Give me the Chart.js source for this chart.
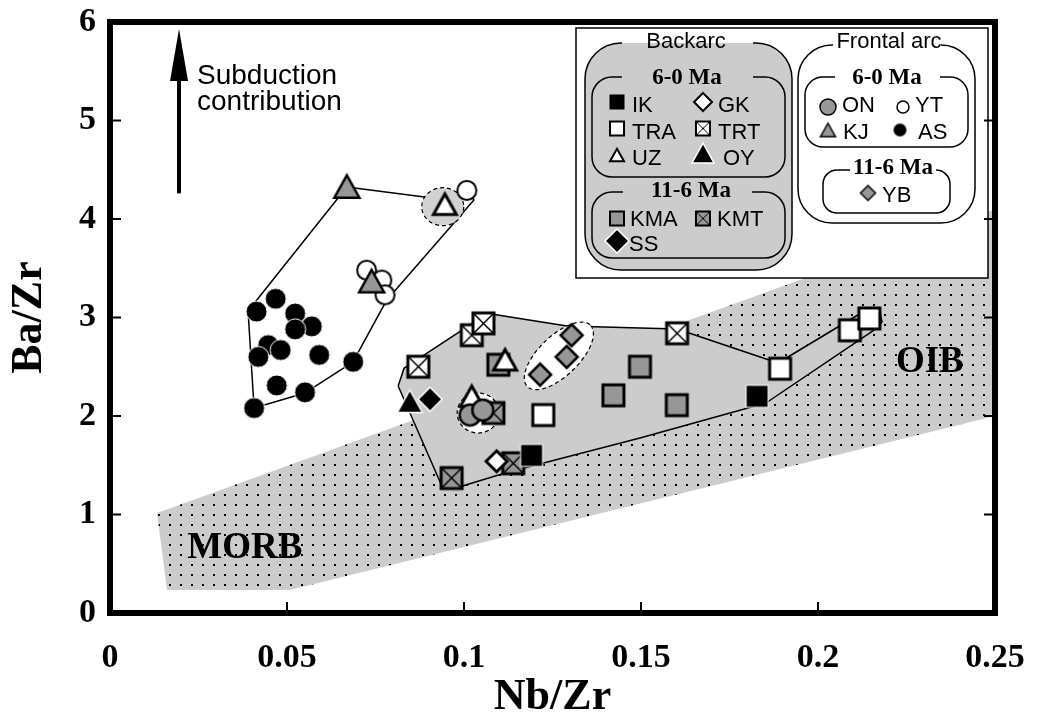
<!DOCTYPE html>
<html>
<head>
<meta charset="utf-8">
<script src="https://cdn.jsdelivr.net/npm/chart.js@4.4.0/dist/chart.umd.min.js"></script>
<style>
  html, body { margin: 0; background: #fff; }
  #wrap { width: 1038px; height: 720px; }
</style>
</head>
<body>
<div id="wrap"><canvas id="myChart" width="1038" height="720"></canvas></div>
<script>
// axis ticks
const xTicks = [0, 0.05, 0.1, 0.15, 0.2, 0.25]
const yTicks = [0, 1, 2, 3, 4, 5, 6]

// frontal arc, 6-0 Ma  [Nb/Zr, Ba/Zr]
const onPts = [[0.1017, 2.01], [0.1053, 2.06]]
const ytPts = [[0.1008, 4.29], [0.0725, 3.48], [0.0768, 3.38], [0.0777, 3.23]]
const kjPts = [[0.0669, 4.33], [0.0739, 3.37]]
const asPts = [
  [0.0468, 3.19], [0.0414, 3.06], [0.0523, 3.04], [0.0570, 2.91], [0.0523, 2.88],
  [0.0447, 2.72], [0.0482, 2.67], [0.0419, 2.60], [0.0591, 2.62], [0.0687, 2.55],
  [0.0471, 2.31], [0.0551, 2.24], [0.0407, 2.08]
]
// frontal arc, 11-6 Ma
const ybPts = [[0.1304, 2.82], [0.1290, 2.60], [0.1215, 2.42]]

// backarc, 6-0 Ma
const ikPts = [[0.1828, 2.20], [0.1191, 1.60]]
const gkPts = [[0.1092, 1.54]]
const traPts = [[0.1224, 2.01], [0.1893, 2.48], [0.2090, 2.87], [0.2145, 2.99]]
const trtPts = [[0.0871, 2.50], [0.1022, 2.82], [0.1055, 2.94], [0.1602, 2.84]]
const uzPts = [[0.0946, 4.15], [0.1116, 2.57], [0.1022, 2.20]]
const oyPts = [[0.0847, 2.15]]
// backarc, 11-6 Ma
const kmaPts = [[0.1097, 2.52], [0.1497, 2.50], [0.1422, 2.21], [0.1601, 2.11]]
const kmtPts = [[0.1083, 2.03], [0.1139, 1.52], [0.0965, 1.37]]
const ssPts = [[0.0904, 2.17]]

// outlines of fields
const morbOib = [[0.0133, 1.015], [0.25, 4.1], [0.25, 2.0], [0.0508, 0.234], [0.0161, 0.234]]
const backarcField = [
  [0.0814, 2.305], [0.0831, 2.487], [0.1017, 2.924], [0.1059, 3.046], [0.1291, 2.914],
  [0.1602, 2.883], [0.1887, 2.538], [0.2136, 3.076], [0.2175, 3.046], [0.2181, 2.954],
  [0.2155, 2.863], [0.1853, 2.132], [0.1497, 1.777], [0.1116, 1.421], [0.0977, 1.269],
  [0.0935, 1.310]
]
const frontalField = [
  [0.0407, 2.081], [0.0390, 3.066], [0.0669, 4.325], [0.0932, 4.203], [0.1006, 4.305],
  [0.1028, 4.193], [0.0782, 3.178], [0.0686, 2.548], [0.0551, 2.234]
]
// dashed groupings: centre [x, y], radii px, tilt deg, fill
const groups = [
  { c: [0.0940, 4.125], rx: 21, ry: 19, rot: 0, fill: '#d2d2d2' },
  { c: [0.1040, 2.03], rx: 21, ry: 20, rot: 0, fill: '#fff' },
  { c: [0.1268, 2.61], rx: 44, ry: 20, rot: -44, fill: '#fff' }
]

const GRAY = '#cccccc'
const MID = '#979797'
const serif = 'Liberation Serif'
const sans = 'Liberation Sans'

// marker images
const marker = (shape, fill, edge, lw, s, cross) => {
  const pad = Math.ceil(lw) + 3
  const c = document.createElement('canvas')
  c.width = c.height = Math.round(s + pad * 2)
  const g = c.getContext('2d')
  const m = c.width / 2, h = s / 2
  g.beginPath()
  if (shape === 'square') g.rect(m - h, m - h, s, s)
  else if (shape === 'diamond') {
    g.moveTo(m, m - h); g.lineTo(m + h, m); g.lineTo(m, m + h); g.lineTo(m - h, m); g.closePath()
  } else if (shape === 'triangle') {
    const t = s * 0.9
    g.moveTo(m, m - t / 2); g.lineTo(m + h, m + t / 2); g.lineTo(m - h, m + t / 2); g.closePath()
  } else g.arc(m, m, h, 0, Math.PI * 2)
  g.fillStyle = fill
  g.fill()
  if (lw > 0) { g.lineWidth = lw; g.strokeStyle = edge; g.stroke() }
  if (cross) {
    g.lineWidth = Math.max(1, lw * 0.5)
    g.strokeStyle = '#000'
    g.beginPath()
    g.moveTo(m - h, m - h); g.lineTo(m + h, m + h)
    g.moveTo(m + h, m - h); g.lineTo(m - h, m + h)
    g.stroke()
  }
  return c
}

const sym = {
  IK: [marker('square', '#000', '#fff', 1, 22), marker('square', '#000', '#000', 0, 15)],
  GK: [marker('diamond', '#fff', '#000', 3, 21), marker('diamond', '#fff', '#000', 2, 18)],
  TRA: [marker('square', '#fff', '#000', 3, 21), marker('square', '#fff', '#000', 2, 14)],
  TRT: [marker('square', '#fff', '#000', 3, 21, true), marker('square', '#fff', '#000', 2, 14, true)],
  UZ: [marker('triangle', '#fff', '#000', 3, 23), marker('triangle', '#fff', '#000', 2, 14)],
  OY: [marker('triangle', '#000', '#fff', 1.5, 25), marker('triangle', '#000', '#fff', 1.5, 22)],
  KMA: [marker('square', MID, '#000', 3, 21), marker('square', MID, '#000', 2, 14)],
  KMT: [marker('square', MID, '#000', 3, 21, true), marker('square', MID, '#000', 2, 14, true)],
  SS: [marker('diamond', '#000', '#fff', 1.5, 24), marker('diamond', '#000', '#fff', 1.5, 24)],
  ON: [marker('circle', MID, '#000', 2.5, 21), marker('circle', MID, '#000', 1.5, 16)],
  YT: [marker('circle', '#fff', '#000', 2, 19), marker('circle', '#fff', '#000', 1.5, 12)],
  KJ: [marker('triangle', MID, '#000', 2.5, 25), marker('triangle', MID, '#000', 1.5, 15)],
  AS: [marker('circle', '#000', '#fff', 1, 21), marker('circle', '#000', '#000', 0, 13)],
  YB: [marker('diamond', MID, '#000', 2.5, 22), marker('diamond', MID, '#000', 1.5, 15)]
}

// dotted fill of the MORB-OIB array
const dotPattern = (() => {
  const c = document.createElement('canvas')
  c.width = 11; c.height = 10
  const g = c.getContext('2d')
  g.fillStyle = GRAY; g.fillRect(0, 0, 11, 10)
  g.fillStyle = '#000'; g.fillRect(4, 4, 2, 2)
  return g.createPattern(c, 'repeat')
})()

const toXY = pts => pts.map(([x, y]) => ({ x, y }))
const closed = pts => toXY(pts.concat([pts[0]]))

const field = (data, fill, line, order) => ({
  data: closed(data), showLine: true, fill: fill ? 'shape' : false,
  backgroundColor: fill || 'rgba(0,0,0,0)', borderColor: line || 'rgba(0,0,0,0)',
  borderWidth: line ? 1.5 : 0, pointRadius: 0, order, borderJoinStyle: 'round'
})
const series = (name, pts, order) => ({
  label: name, data: toXY(pts), pointStyle: sym[name][0], pointRadius: 11, order, showLine: false
})

const datasets = [
  field(morbOib, dotPattern, null, 100),
  field(backarcField, GRAY, '#000', 99),
  field(frontalField, null, '#000', 98),
  series('YT', ytPts, 40),
  series('KJ', kjPts, 39),
  series('AS', asPts, 38),
  series('KMA', kmaPts, 37),
  series('TRT', trtPts, 36),
  series('UZ', uzPts, 35),
  series('KMT', kmtPts, 34),
  series('ON', onPts, 33),
  series('TRA', traPts, 32),
  series('YB', ybPts, 31),
  series('GK', gkPts, 30),
  series('IK', ikPts, 29),
  series('OY', oyPts, 28),
  series('SS', ssPts, 27)
]

// rounded legend box with a gap in its top edge for the title
const gapBox = (ctx, x, y, w, h, r, g0, g1, fill) => {
  ctx.beginPath(); ctx.roundRect(x, y, w, h, r); ctx.fillStyle = fill; ctx.fill()
  ctx.beginPath()
  ctx.moveTo(g1, y)
  ctx.arcTo(x + w, y, x + w, y + h, r)
  ctx.arcTo(x + w, y + h, x, y + h, r)
  ctx.arcTo(x, y + h, x, y, r)
  ctx.arcTo(x, y, x + w, y, r)
  ctx.lineTo(g0, y)
  ctx.stroke()
}

const legendItems = [
  ['IK', 617, 102, 632, 112], ['GK', 703, 102, 718, 112],
  ['TRA', 617, 128.5, 632, 138.5], ['TRT', 703, 128.5, 718, 138.5],
  ['UZ', 617, 155, 632, 165], ['OY', 703, 153, 723, 165],
  ['KMA', 617, 218.5, 630, 226], ['KMT', 703, 218.5, 717, 226],
  ['SS', 617, 241, 629, 251],
  ['ON', 828, 107, 842, 112], ['YT', 903, 107, 915, 112],
  ['KJ', 828, 130, 843, 138.5], ['AS', 900, 130, 918, 138.5],
  ['YB', 868, 193, 882, 202]
]

const decor = {
  id: 'decor',
  afterDatasetDraw(chart, args) {
    if (chart.data.datasets[args.index].order !== 98) return
    const { ctx, scales: { x, y } } = chart
    ctx.save()
    groups.forEach(e => {
      ctx.beginPath()
      ctx.ellipse(x.getPixelForValue(e.c[0]), y.getPixelForValue(e.c[1]), e.rx, e.ry, e.rot * Math.PI / 180, 0, Math.PI * 2)
      ctx.fillStyle = e.fill
      ctx.fill()
      ctx.setLineDash([4, 3])
      ctx.lineWidth = 1.2
      ctx.strokeStyle = '#000'
      ctx.stroke()
    })
    ctx.restore()
  },
  afterDatasetsDraw(chart) {
    const { ctx, scales: { x, y } } = chart
    ctx.save()
    ctx.fillStyle = '#000'
    ctx.font = `bold 37px "${serif}"`
    ctx.textAlign = 'center'
    ctx.textBaseline = 'middle'
    ctx.fillText('MORB', x.getPixelForValue(0.0381), y.getPixelForValue(0.66))
    ctx.fillText('OIB', x.getPixelForValue(0.2316), y.getPixelForValue(2.54))

    // subduction arrow
    const ax = x.getPixelForValue(0.0195)
    const tip = y.getPixelForValue(5.93), tail = y.getPixelForValue(4.26)
    ctx.lineWidth = 4
    ctx.strokeStyle = '#000'
    ctx.beginPath(); ctx.moveTo(ax, tail); ctx.lineTo(ax, tip + 40); ctx.stroke()
    ctx.beginPath(); ctx.moveTo(ax, tip); ctx.lineTo(ax + 9, tip + 52); ctx.lineTo(ax - 9, tip + 52); ctx.closePath(); ctx.fill()
    ctx.font = `28px "${sans}"`
    ctx.textAlign = 'left'
    ctx.textBaseline = 'alphabetic'
    ctx.fillText('Subduction', ax + 18, tip + 55)
    ctx.fillText('contribution', ax + 18, tip + 81)
    ctx.restore()
  },
  afterDraw(chart) {
    const { ctx, chartArea: a, scales: { x, y } } = chart
    ctx.save()
    ctx.strokeStyle = '#000'

    // legend
    ctx.lineWidth = 1.5
    ctx.fillStyle = '#fff'
    ctx.fillRect(576, 28, 412, 250)
    ctx.strokeRect(576, 28, 412, 250)
    gapBox(ctx, 585, 43, 207, 227, 36, 622, 753, GRAY)
    gapBox(ctx, 592, 77, 193, 100, 20, 622, 753, GRAY)
    gapBox(ctx, 592, 192, 193, 66, 20, 623, 752, GRAY)
    gapBox(ctx, 798, 45, 177, 178, 34, 833, 942, '#fff')
    gapBox(ctx, 805, 77, 163, 70, 18, 835, 940, '#fff')
    gapBox(ctx, 823, 170, 127, 43, 14, 850, 937, '#fff')

    ctx.fillStyle = '#000'
    ctx.textAlign = 'center'
    ctx.textBaseline = 'middle'
    ctx.font = `22px "${sans}"`
    ctx.fillText('Backarc', 686, 42)
    ctx.fillText('Frontal arc', 889, 42)
    ctx.font = `bold 23px "${serif}"`
    ctx.fillText('6-0 Ma', 687, 78)
    ctx.fillText('11-6 Ma', 691, 191)
    ctx.fillText('6-0 Ma', 887, 78)
    ctx.fillText('11-6 Ma', 893, 168)

    ctx.textAlign = 'left'
    ctx.textBaseline = 'alphabetic'
    ctx.font = `22px "${sans}"`
    legendItems.forEach(([name, mx, my, tx, ty]) => {
      const img = sym[name][1]
      ctx.drawImage(img, mx - img.width / 2, my - img.height / 2)
      ctx.fillText(name, tx, ty)
    })

    // inward tick marks: bottom, left and right
    ctx.lineWidth = 2
    ctx.beginPath()
    xTicks.slice(1, -1).forEach(v => {
      const px = x.getPixelForValue(v)
      ctx.moveTo(px, a.bottom); ctx.lineTo(px, a.bottom - 11)
    })
    yTicks.slice(1, -1).forEach(v => {
      const py = y.getPixelForValue(v)
      ctx.moveTo(a.left, py); ctx.lineTo(a.left + 11, py)
      ctx.moveTo(a.right, py); ctx.lineTo(a.right - 11, py)
    })
    ctx.stroke()

    // plot frame
    ctx.lineWidth = 6
    ctx.strokeRect(a.left, a.top, a.right - a.left, a.bottom - a.top)
    ctx.restore()
  }
}

const tickFont = { family: serif, weight: 'bold', size: 34, lineHeight: 1 }
const titleFont = { family: serif, weight: 'bold', size: 44, lineHeight: 1 }

const ctx = document.getElementById('myChart').getContext('2d')
const chart = new Chart(ctx, {
  type: 'scatter',
  data: { datasets },
  options: {
    responsive: false,
    animation: false,
    events: [],
    layout: { autoPadding: false, padding: { top: 22, right: 43, left: 0, bottom: 0 } },
    plugins: { legend: { display: false }, tooltip: { enabled: false } },
    scales: {
      x: {
        type: 'linear', min: 0, max: 0.25,
        afterBuildTicks: s => { s.ticks = xTicks.map(value => ({ value })) },
        afterFit: s => { s.height = 107 },
        grid: { display: false, drawTicks: true, tickLength: 28 },
        border: { display: false },
        ticks: { font: tickFont, color: '#000', padding: 0, maxRotation: 0, callback: v => String(v) },
        title: { display: true, text: 'Nb/Zr', font: titleFont, color: '#000', padding: { top: 0, bottom: 0 } }
      },
      y: {
        type: 'linear', min: 0, max: 6,
        afterBuildTicks: s => { s.ticks = yTicks.map(value => ({ value })) },
        afterFit: s => { s.width = 110 },
        grid: { display: false, drawTicks: true, tickLength: 14 },
        border: { display: false },
        ticks: { font: tickFont, color: '#000', padding: 0, callback: v => String(v) },
        title: { display: true, text: 'Ba/Zr', font: titleFont, color: '#000', padding: { top: 8, bottom: 0 } }
      }
    }
  },
  plugins: [decor]
})
</script>
</body>
</html>
